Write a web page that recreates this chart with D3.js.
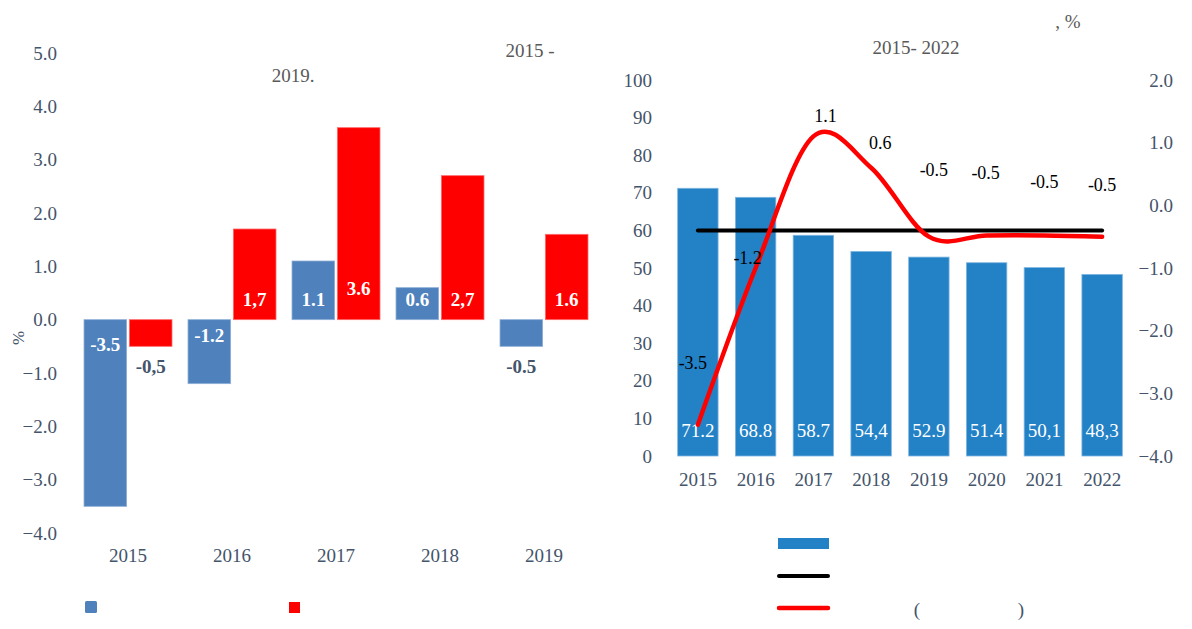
<!DOCTYPE html>
<html>
<head>
  <meta charset="utf-8" />
  <title>Two panels</title>
  <style>
    body { margin: 0; background: #fff; }
    svg { display: block; font-family: "Liberation Serif", "Times New Roman", serif; }
  </style>
  <script src="https://d3js.org/d3.v7.min.js"></script>
</head>
<body>
<svg id="chart" width="1192" height="629"></svg>
<script>
  // left panel
  var leftYears = ["2015", "2016", "2017", "2018", "2019"];
  var leftBlue = [-3.5, -1.2, 1.1, 0.6, -0.5];
  var leftRed = [-0.5, 1.7, 3.6, 2.7, 1.6];
  var leftBlueLabels = ["-3.5", "-1.2", "1.1", "0.6", "-0.5"];
  var leftRedLabels = ["-0,5", "1,7", "3.6", "2,7", "1.6"];
  var leftTicks = [5, 4, 3, 2, 1, 0, -1, -2, -3, -4];

  // right panel
  var rightYears = ["2015", "2016", "2017", "2018", "2019", "2020", "2021", "2022"];
  var rightBars = [71.2, 68.8, 58.7, 54.4, 52.9, 51.4, 50.1, 48.3];
  var rightBarLabels = ["71.2", "68.8", "58.7", "54,4", "52.9", "51.4", "50,1", "48,3"];
  var rightLevel = [60, 60, 60, 60, 60, 60, 60, 60];
  var rightLine = [-3.5, -1.0, 1.1, 0.6, -0.5, -0.48, -0.48, -0.5];
  var rightLineLabels = ["-3.5", "-1.2", "1.1", "0.6", "-0.5", "-0.5", "-0.5", "-0.5"];
  var rightLeftTicks = [0, 10, 20, 30, 40, 50, 60, 70, 80, 90, 100];
  var rightRightTicks = [2, 1, 0, -1, -2, -3, -4];
  // hand-placed label offsets, like the source
  var lineLabelOffset = [[-5, -62], [-8, -10], [12, -21], [9, -25], [5, -67], [-1, -63], [0, -54], [0, -52]];

  var axisColor = "#44546a";
  var svg = d3.select("#chart");

  // ---------- left panel ----------
  var x0 = d3.scaleBand().domain(leftYears).range([76, 596]).paddingInner(0.154).paddingOuter(0.077);
  var x1 = d3.scaleBand().domain(["b", "r"]).range([0, x0.bandwidth()]).paddingInner(0.06);
  var yl = d3.scaleLinear().domain([-4, 5]).range([533, 53]);

  var gl = svg.append("g");
  var axL = gl.append("g").attr("transform", "translate(57,0)")
    .call(d3.axisLeft(yl).tickValues(leftTicks).tickFormat(d3.format(".1f")).tickSize(0).tickPadding(0));
  axL.select(".domain").remove();
  axL.selectAll("text").attr("fill", axisColor).style("font-size", "19px").style("font-family", "Liberation Serif");

  var axB = gl.append("g").attr("transform", "translate(0,543)")
    .call(d3.axisBottom(x0).tickSize(0).tickPadding(0));
  axB.select(".domain").remove();
  axB.selectAll("text").attr("fill", axisColor).attr("dy", "1em").style("font-size", "19px").style("font-family", "Liberation Serif");

  gl.append("text").attr("transform", "translate(24,338) rotate(-90)")
    .attr("text-anchor", "middle").attr("fill", axisColor).style("font-size", "17px").text("%");

  var series = [
    { key: "b", values: leftBlue, labels: leftBlueLabels, color: "#4f81bd", edge: "#8fb0d8" },
    { key: "r", values: leftRed, labels: leftRedLabels, color: "#ff0000", edge: "#ff6a6a" }
  ];

  series.forEach(function (s) {
    gl.selectAll("rect.bar-" + s.key)
      .data(s.values)
      .enter().append("rect")
      .attr("class", "bar-" + s.key)
      .attr("x", function (d, i) { return x0(leftYears[i]) + x1(s.key) })
      .attr("width", x1.bandwidth())
      .attr("y", function (d) { return yl(Math.max(0, d)) })
      .attr("height", function (d) { return Math.abs(yl(d) - yl(0)) })
      .attr("fill", s.color)
      .attr("stroke", s.edge).attr("stroke-width", 0.8);

    gl.selectAll("text.lab-" + s.key)
      .data(s.values)
      .enter().append("text")
      .attr("class", "lab-" + s.key)
      .attr("x", function (d, i) { return x0(leftYears[i]) + x1(s.key) + x1.bandwidth() / 2 })
      .attr("y", function (d) {
        if (d >= 0) return yl(0) - (d > 3 ? 25 : 14);
        if (d > -1) return yl(d) + 27;
        return yl(0) + (d < -3 ? 31 : 22);
      })
      .attr("text-anchor", "middle")
      .attr("fill", function (d) { return (d < 0 && d > -1) ? axisColor : "#fff" })
      .style("font-size", "19px").style("font-weight", "bold")
      .text(function (d, i) { return s.labels[i] });
  });

  gl.append("text").attr("x", 530).attr("y", 57).attr("text-anchor", "middle")
    .attr("fill", "#595959").style("font-size", "19px").text("2015 -");
  gl.append("text").attr("x", 293).attr("y", 82).attr("text-anchor", "middle")
    .attr("fill", "#595959").style("font-size", "19px").text("2019.");

  gl.append("rect").attr("x", 85).attr("y", 601).attr("width", 12).attr("height", 12).attr("rx", 1.5).attr("fill", "#4f81bd");
  gl.append("rect").attr("x", 289).attr("y", 602).attr("width", 11).attr("height", 11).attr("fill", "#ff0000");

  // ---------- right panel ----------
  var xr = d3.scaleBand().domain(rightYears).range([669, 1131]).paddingInner(0.3).paddingOuter(0.15);
  var yA = d3.scaleLinear().domain([0, 100]).range([456, 80]);
  var yB = d3.scaleLinear().domain([-4, 2]).range([456, 80]);

  var gr = svg.append("g");
  var axRL = gr.append("g").attr("transform", "translate(652,0)")
    .call(d3.axisLeft(yA).tickValues(rightLeftTicks).tickSize(0).tickPadding(0));
  axRL.select(".domain").remove();
  axRL.selectAll("text").attr("fill", axisColor).style("font-size", "19px").style("font-family", "Liberation Serif");

  var axRR = gr.append("g").attr("transform", "translate(1173,0)")
    .call(d3.axisLeft(yB).tickValues(rightRightTicks).tickFormat(d3.format(".1f")).tickSize(0).tickPadding(0));
  axRR.select(".domain").remove();
  axRR.selectAll("text").attr("fill", axisColor).style("font-size", "19px").style("font-family", "Liberation Serif");

  var axRB = gr.append("g").attr("transform", "translate(0,467)")
    .call(d3.axisBottom(xr).tickSize(0).tickPadding(0));
  axRB.select(".domain").remove();
  axRB.selectAll("text").attr("fill", axisColor).attr("dy", "1em").style("font-size", "19px").style("font-family", "Liberation Serif");

  gr.selectAll("rect.rbar")
    .data(rightBars)
    .enter().append("rect")
    .attr("class", "rbar")
    .attr("x", function (d, i) { return xr(rightYears[i]) })
    .attr("width", xr.bandwidth())
    .attr("y", function (d) { return yA(d) })
    .attr("height", function (d) { return yA(0) - yA(d) })
    .attr("fill", "#2381c6")
    .attr("stroke", "#7fb6e0").attr("stroke-width", 0.8);

  gr.selectAll("text.rlab")
    .data(rightBars)
    .enter().append("text")
    .attr("class", "rlab")
    .attr("x", function (d, i) { return xr(rightYears[i]) + xr.bandwidth() / 2 })
    .attr("y", yA(0) - 19)
    .attr("text-anchor", "middle").attr("fill", "#fff")
    .style("font-size", "19px")
    .text(function (d, i) { return rightBarLabels[i] });

  var cx = function (i) { return xr(rightYears[i]) + xr.bandwidth() / 2 };

  gr.append("path")
    .datum(rightLevel)
    .attr("d", d3.line().x(function (d, i) { return cx(i) }).y(function (d) { return yA(d) }))
    .attr("fill", "none").attr("stroke", "#000").attr("stroke-width", 4).attr("stroke-linecap", "round");

  gr.append("path")
    .datum(rightLine)
    .attr("d", d3.line().curve(d3.curveCardinal.tension(0)).x(function (d, i) { return cx(i) }).y(function (d) { return yB(d) }))
    .attr("fill", "none").attr("stroke", "#ff0000").attr("stroke-width", 4.5).attr("stroke-linecap", "round");

  gr.selectAll("text.llab")
    .data(rightLine)
    .enter().append("text")
    .attr("class", "llab")
    .attr("x", function (d, i) { return cx(i) + lineLabelOffset[i][0] })
    .attr("y", function (d, i) { return yB(d) + lineLabelOffset[i][1] })
    .attr("dy", "0.35em")
    .attr("text-anchor", "middle").attr("fill", "#000")
    .style("font-size", "18px")
    .text(function (d, i) { return rightLineLabels[i] });

  gr.append("text").attr("x", 916).attr("y", 54).attr("text-anchor", "middle")
    .attr("fill", "#595959").style("font-size", "19px").text("2015- 2022");
  gr.append("text").attr("x", 1068).attr("y", 28).attr("text-anchor", "middle")
    .attr("fill", "#595959").style("font-size", "19px").text(", %");

  // legend
  gr.append("rect").attr("x", 778).attr("y", 538).attr("width", 51).attr("height", 11).attr("fill", "#2381c6");
  gr.append("line").attr("x1", 779).attr("x2", 828).attr("y1", 576).attr("y2", 576)
    .attr("stroke", "#000").attr("stroke-width", 4).attr("stroke-linecap", "round");
  gr.append("line").attr("x1", 779).attr("x2", 828).attr("y1", 608).attr("y2", 608)
    .attr("stroke", "#ff0000").attr("stroke-width", 4.5).attr("stroke-linecap", "round");
  gr.append("text").attr("x", 917).attr("y", 616).attr("text-anchor", "middle")
    .attr("fill", axisColor).style("font-size", "19px").text("(");
  gr.append("text").attr("x", 1021).attr("y", 616).attr("text-anchor", "middle")
    .attr("fill", axisColor).style("font-size", "19px").text(")");
</script>
</body>
</html>
